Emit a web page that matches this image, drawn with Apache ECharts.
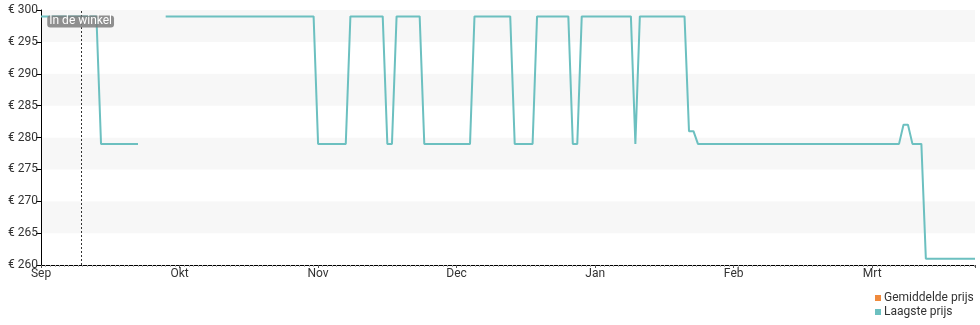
<!DOCTYPE html>
<html><head><meta charset="utf-8">
<script src="https://cdn.jsdelivr.net/npm/echarts@6/dist/echarts.min.js"></script>
<style>html,body{margin:0;padding:0;background:#fff}#c{width:980px;height:325px}</style>
</head><body><div id="c"></div>
<script>
// ---- data ----
const monthLabels = ['Sep', 'Okt', 'Nov', 'Dec', 'Jan', 'Feb', 'Mrt'];
const seriesNames = ['Gemiddelde prijs', 'Laagste prijs'];
const dates = [
  '2023-09-01','2023-09-13','2023-09-14','2023-09-22','2023-09-25','2023-09-28',
  '2023-10-31','2023-11-01','2023-11-07','2023-11-08','2023-11-15','2023-11-16',
  '2023-11-17','2023-11-18','2023-11-23','2023-11-24','2023-12-04','2023-12-05',
  '2023-12-13','2023-12-14','2023-12-18','2023-12-19','2023-12-26','2023-12-27',
  '2023-12-28','2023-12-29','2024-01-09','2024-01-10','2024-01-11','2024-01-21',
  '2024-01-22','2024-01-23','2024-01-24','2024-03-07','2024-03-08','2024-03-09',
  '2024-03-10','2024-03-12','2024-03-13','2024-03-24'
];
const lowestPrice = [
  299, 299, 279, 279, null, 299,
  299, 279, 279, 299, 299, 279,
  279, 299, 299, 279, 279, 299,
  299, 279, 279, 299, 299, 279,
  279, 299, 299, 279, 299, 299,
  281, 281, 279, 279, 282, 282,
  279, 279, 261, 261
];
const averagePrice = [];
const shopDate = '2023-09-09T14:00';
const shopLabel = 'In de winkel';
const yMin = 260, yMax = 300, yStep = 5;

// months are drawn evenly spaced: convert a date to a month position (Sep 2023 = 0)
function monthPos(s) {
  const [d, t] = s.split('T');
  const [y, m, day] = d.split('-').map(Number);
  let h = 0;
  if (t) { const [hh, mm] = t.split(':').map(Number); h = hh + mm / 60; }
  const nDays = new Date(y, m, 0).getDate();
  return (y - 2023) * 12 + (m - 9) + (day - 1 + h / 24) / nDays;
}

const lowData = dates.map((d, i) => [monthPos(d), lowestPrice[i]]);
const avgData = averagePrice.map((v, i) => [monthPos(dates[i]), v]);
const xMax = monthPos(dates[dates.length - 1]);
const shopX = monthPos(shopDate);

const chart = echarts.init(document.getElementById('c'));
chart.setOption({
  animation: false,
  textStyle: { fontFamily: 'Roboto' },
  grid: { left: 41, right: 5, top: 10, bottom: 60 },
  legend: {
    orient: 'vertical', left: 870, top: 287,
    itemWidth: 6, itemHeight: 6, itemGap: 2, icon: 'rect',
    textStyle: { fontSize: 12, color: '#333', padding: [0, 0, 0, -2] },
    data: seriesNames
  },
  xAxis: {
    type: 'value', min: 0, max: xMax, interval: 1,
    axisLine: { lineStyle: { color: '#000', width: 1 } },
    axisTick: { show: true, length: 3, lineStyle: { color: '#555' } },
    minorTick: { show: true, splitNumber: 30, length: 2, lineStyle: { color: '#aaa' } },
    axisLabel: {
      color: '#333', fontSize: 12, margin: 3, showMaxLabel: false,
      formatter: v => (Math.abs(v - Math.round(v)) < 1e-6 ? (monthLabels[Math.round(v)] || '') : '')
    },
    splitLine: { show: false }
  },
  yAxis: {
    type: 'value', min: yMin, max: yMax, interval: yStep,
    axisLine: { show: true, lineStyle: { color: '#000', width: 1 } },
    axisTick: { show: true, length: 5, lineStyle: { color: '#000' } },
    axisLabel: { color: '#333', fontSize: 12, margin: 3, formatter: v => '€ ' + v },
    splitLine: { show: false },
    splitArea: { show: true, areaStyle: { color: ['#ffffff', '#f7f7f7'] } }
  },
  series: [
    {
      name: seriesNames[0], type: 'line', data: avgData, showSymbol: false,
      itemStyle: { color: '#f08a3c' }, lineStyle: { color: '#f08a3c', width: 2 }
    },
    {
      name: seriesNames[1], type: 'line', data: lowData, showSymbol: false,
      connectNulls: false,
      itemStyle: { color: '#6cc0c0' }, lineStyle: { color: '#6cc0c0', width: 2 },
      markLine: {
        silent: true, symbol: ['none', 'none'], animation: false,
        label: { show: false },
        lineStyle: { type: [2, 2], color: '#333', width: 1 },
        data: [{ xAxis: shopX }]
      },
      markPoint: {
        silent: true, symbol: 'rect', symbolSize: 0,
        label: {
          show: true, formatter: shopLabel, position: 'inside',
          color: '#fff', fontSize: 12, backgroundColor: 'rgba(125,125,125,0.85)',
          borderRadius: 3, padding: [0, 2], lineHeight: 12
        },
        data: [{ coord: [shopX, 298.2] }]
      }
    }
  ]
});
</script>
</body></html>
